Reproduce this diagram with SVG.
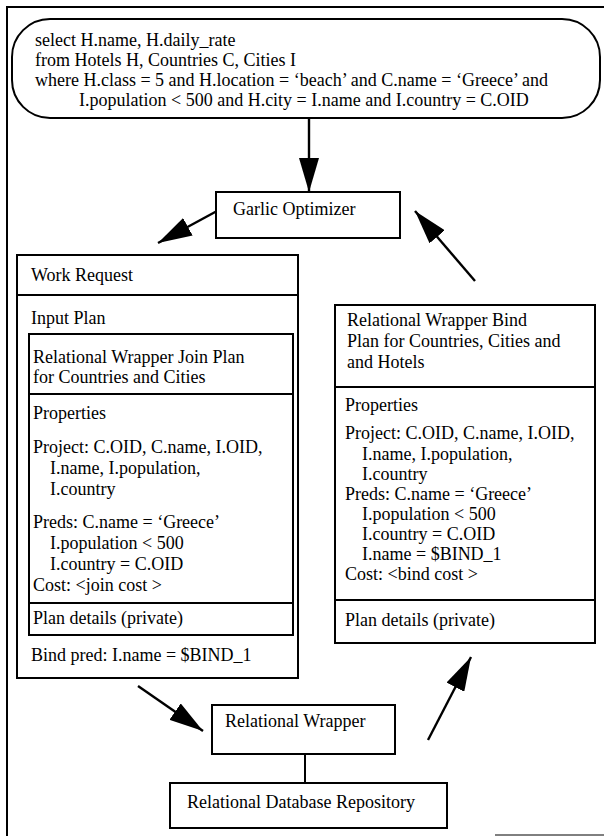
<svg xmlns="http://www.w3.org/2000/svg" width="604" height="836" viewBox="0 0 604 836">
  <style>
    text { font-family: "Liberation Serif", "Times New Roman", serif; font-size: 18px; fill: #000; }
    .box { fill: #fff; stroke: #000; stroke-width: 2; }
    .rule { stroke: #000; stroke-width: 2; fill: none; }
    .conn { stroke: #000; stroke-width: 2.4; fill: none; }
  </style>
  <defs>
    <marker id="head" viewBox="0 0 34 20" refX="34" refY="10" markerWidth="34" markerHeight="20" markerUnits="userSpaceOnUse" orient="auto">
      <path d="M0,0 L34,10 L0,20 Z" fill="#000"/>
    </marker>
  </defs>
  <rect width="604" height="836" fill="#fff"/>

  <!-- page frame -->
  <g id="frame">
    <path class="rule" d="M604,7 H7 V836"/>
    <line x1="495" y1="835" x2="604" y2="835" stroke="#000" stroke-width="1"/>
  </g>

  <!-- connectors -->
  <g id="connectors">
    <line class="conn" x1="309" y1="118" x2="309" y2="192" marker-end="url(#head)"/>
    <line class="conn" x1="217" y1="211" x2="158" y2="243" marker-end="url(#head)"/>
    <line class="conn" x1="475" y1="281" x2="415" y2="211" marker-end="url(#head)"/>
    <line class="conn" x1="138" y1="686" x2="203" y2="731" marker-end="url(#head)"/>
    <line class="conn" x1="428" y1="740" x2="471" y2="657" marker-end="url(#head)"/>
    <line class="rule" x1="305" y1="754" x2="305" y2="783"/>
  </g>

  <!-- SQL query -->
  <g id="query">
    <rect class="box" x="12" y="19" width="588" height="99" rx="38" ry="38"/>
    <text x="35" y="46">select H.name, H.daily_rate</text>
    <text x="35" y="66">from Hotels H, Countries C, Cities I</text>
    <text x="35" y="86">where H.class = 5 and H.location = &#8216;beach&#8217; and C.name = &#8216;Greece&#8217; and</text>
    <text x="79" y="106">I.population &lt; 500 and H.city = I.name and I.country = C.OID</text>
  </g>

  <!-- optimizer -->
  <g id="optimizer">
    <rect class="box" x="216" y="192" width="184" height="46"/>
    <text x="233" y="215">Garlic Optimizer</text>
  </g>

  <!-- work request with nested join plan -->
  <g id="work-request">
    <rect class="box" x="17" y="255" width="281" height="423"/>
    <line class="rule" x1="17" y1="295" x2="298" y2="295"/>
    <text x="31" y="281">Work Request</text>
    <text x="31" y="324">Input Plan</text>
    <g id="join-plan">
      <rect class="box" x="29" y="334" width="264" height="301" stroke-width="2.6"/>
      <line class="rule" x1="29" y1="394" x2="293" y2="394"/>
      <line class="rule" x1="29" y1="603" x2="293" y2="603"/>
      <text x="33" y="363">Relational Wrapper Join Plan</text>
      <text x="33" y="383">for Countries and Cities</text>
      <text x="33" y="419">Properties</text>
      <text x="33" y="453">Project: C.OID, C.name, I.OID,</text>
      <text x="50" y="474">I.name, I.population,</text>
      <text x="50" y="495">I.country</text>
      <text x="33" y="528">Preds: C.name = &#8216;Greece&#8217;</text>
      <text x="50" y="549">I.population &lt; 500</text>
      <text x="50" y="570">I.country = C.OID</text>
      <text x="33" y="591">Cost: &lt;join cost &gt;</text>
      <text x="33" y="624">Plan details (private)</text>
    </g>
    <text x="31" y="661">Bind pred: I.name = $BIND_1</text>
  </g>

  <!-- bind plan -->
  <g id="bind-plan">
    <rect class="box" x="335" y="305" width="260" height="338"/>
    <line class="rule" x1="335" y1="387" x2="595" y2="387"/>
    <line class="rule" x1="335" y1="600" x2="595" y2="600"/>
    <text x="347" y="326">Relational Wrapper Bind</text>
    <text x="347" y="347">Plan for Countries, Cities and</text>
    <text x="347" y="368">and Hotels</text>
    <text x="345" y="411">Properties</text>
    <text x="345" y="439">Project: C.OID, C.name, I.OID,</text>
    <text x="362" y="460">I.name, I.population,</text>
    <text x="362" y="480">I.country</text>
    <text x="345" y="500">Preds: C.name = &#8216;Greece&#8217;</text>
    <text x="362" y="520">I.population &lt; 500</text>
    <text x="362" y="540">I.country = C.OID</text>
    <text x="362" y="560">I.name = $BIND_1</text>
    <text x="345" y="580">Cost: &lt;bind cost &gt;</text>
    <text x="345" y="626">Plan details (private)</text>
  </g>

  <!-- wrapper -->
  <g id="wrapper">
    <rect class="box" x="212" y="705" width="183" height="49"/>
    <text x="225" y="727">Relational Wrapper</text>
  </g>

  <!-- repository -->
  <g id="repository">
    <rect class="box" x="170" y="783" width="277" height="45"/>
    <text x="187" y="808">Relational Database Repository</text>
  </g>
</svg>
